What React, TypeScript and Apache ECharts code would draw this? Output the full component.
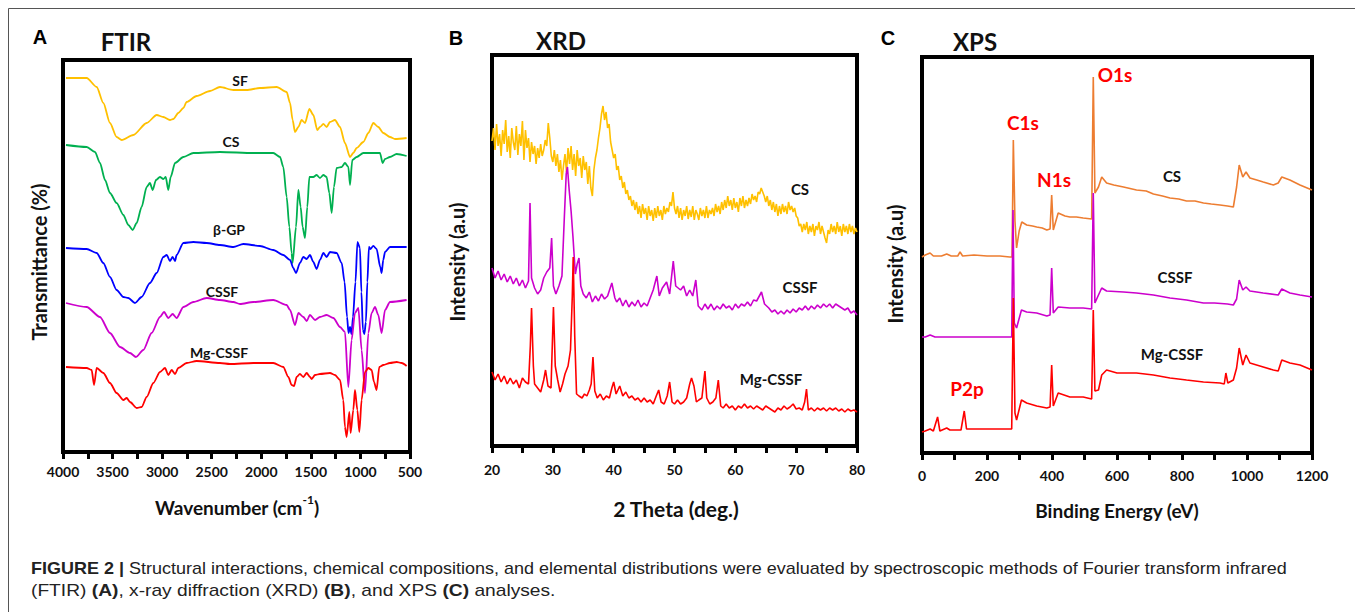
import React, { useEffect, useRef } from "react";
import * as echarts from "echarts";

// ---------- Panel A: FTIR (wavenumber cm-1, transmittance a.u. with offsets) ----------
const ftirSF: number[][] = [[3970,374],[3761,374],[3660,365],[3593,349],[3526,329],[3459,315],[3408,312],[3291,317],[3156,329],[3055,337],[2988,335],[2921,332],[2887,333],[2837,339],[2786,344],[2753,350],[2652,356],[2517,361],[2417,365],[2282,362],[2148,362],[2013,364],[1845,365],[1744,360],[1710,349],[1684,332],[1660,320],[1626,325],[1593,332],[1559,329],[1515,343],[1475,337],[1435,322],[1408,325],[1374,328],[1341,325],[1307,330],[1257,332],[1206,325],[1156,309],[1105,295],[1072,299],[1038,304],[971,310],[920,319],[870,329],[820,325],[769,319],[702,315],[651,313],[534,314]];
const ftirCS: number[][] = [[3970,307],[3761,305],[3677,300],[3627,289],[3576,272],[3526,259],[3459,249],[3391,237],[3341,227],[3297,222],[3257,229],[3207,245],[3156,265],[3123,269],[3096,262],[3062,272],[3022,275],[2988,273],[2964,275],[2938,262],[2914,275],[2870,289],[2786,295],[2685,299],[2417,300],[2080,299],[1879,299],[1811,295],[1778,285],[1744,255],[1717,225],[1694,199],[1684,189],[1650,225],[1626,262],[1603,245],[1583,225],[1559,214],[1536,245],[1515,275],[1475,275],[1442,277],[1408,274],[1374,277],[1341,275],[1314,259],[1290,239],[1267,265],[1240,284],[1189,285],[1156,289],[1122,285],[1105,267],[1082,292],[1038,295],[971,299],[870,299],[803,299],[776,289],[752,293],[702,295],[635,298],[534,296]];
const ftirBGP: number[][] = [[3970,204],[3761,203],[3660,199],[3593,189],[3526,175],[3459,162],[3391,155],[3341,154],[3274,149],[3207,155],[3123,169],[3055,179],[2988,195],[2954,197],[2921,191],[2894,195],[2870,191],[2854,197],[2786,209],[2685,210],[2551,209],[2417,207],[2282,205],[2181,208],[2013,206],[1879,202],[1778,197],[1710,192],[1677,184],[1650,179],[1610,189],[1576,195],[1542,193],[1509,197],[1475,190],[1442,183],[1408,192],[1374,199],[1341,195],[1307,200],[1240,199],[1189,189],[1160,170],[1135,135],[1120,119],[1105,125],[1090,118],[1075,135],[1050,170],[1030,210],[1005,204],[990,160],[975,122],[960,118],[945,130],[930,170],[914,205],[900,203],[870,206],[837,203],[800,185],[786,179],[770,192],[752,200],[702,205],[534,205]];
const ftirCSSF: number[][] = [[3970,149],[3761,145],[3627,135],[3526,119],[3425,105],[3324,99],[3264,95],[3190,102],[3106,119],[3022,135],[2981,140],[2938,134],[2894,138],[2854,134],[2786,145],[2685,150],[2551,154],[2417,152],[2282,150],[2215,148],[2080,150],[1879,152],[1744,147],[1710,142],[1660,127],[1626,139],[1576,135],[1542,131],[1509,137],[1458,132],[1408,135],[1341,137],[1273,134],[1206,125],[1156,120],[1122,65],[1089,112],[1055,139],[1021,144],[988,102],[954,59],[920,119],[887,139],[853,145],[820,137],[786,119],[752,142],[702,150],[534,152]];
const ftirMg: number[][] = [[3970,85],[3761,84],[3711,82],[3687,67],[3660,84],[3593,79],[3526,69],[3459,59],[3391,52],[3358,54],[3324,50],[3257,44],[3207,45],[3156,55],[3089,69],[3022,80],[2971,84],[2938,77],[2904,82],[2870,78],[2837,84],[2753,89],[2652,91],[2417,89],[2316,88],[2080,89],[1879,89],[1778,85],[1727,75],[1694,67],[1670,66],[1643,75],[1610,78],[1576,75],[1542,79],[1509,75],[1492,73],[1458,77],[1408,78],[1307,79],[1257,77],[1206,72],[1173,52],[1156,25],[1139,15],[1112,40],[1099,19],[1072,42],[1055,62],[1031,42],[1011,20],[988,52],[954,80],[920,84],[887,82],[863,70],[837,62],[810,85],[769,87],[702,89],[635,90],[584,89],[534,86]];
const ftirTicks = [4000, 3500, 3000, 2500, 2000, 1500, 1000, 500];

// ---------- Panel B: XRD (2 theta deg., intensity a.u. with offsets) ----------
const xrdCS: number[][] = [[20,305],[20.25,318],[20.5,296],[20.75,322],[21,300],[21.25,312],[21.5,290],[21.75,316],[22,302],[22.25,326],[22.5,294],[22.75,310],[23,288],[23.25,318],[23.5,304],[23.75,296],[24,320],[24.25,291],[24.5,312],[24.75,300],[25,325],[25.25,286],[25.5,316],[25.75,298],[26,308],[26.25,284],[26.5,304],[26.75,292],[27,300],[27.25,282],[27.5,298],[27.75,288],[28,302],[28.25,290],[28.5,296],[28.75,306],[29,300],[29.25,323],[29.5,308],[29.75,290],[30,284],[30.25,296],[30.5,280],[30.75,292],[31,274],[31.25,286],[31.5,266],[31.75,280],[32,292],[32.25,274],[32.5,298],[32.75,282],[33,300],[33.25,276],[33.5,292],[33.75,270],[34,296],[34.25,280],[34.5,288],[34.75,268],[35,290],[35.25,276],[35.5,284],[35.75,262],[36,280],[36.25,258],[36.5,250],[36.75,276],[37,288],[37.25,296],[37.5,308],[37.75,318],[38,332],[38.25,340],[38.5,326],[38.75,334],[39,318],[39.25,322],[39.5,304],[39.75,296],[40,288],[40.25,292],[40.5,276],[40.75,280],[41,266],[41.25,270],[41.5,258],[41.75,264],[42,252],[42.25,256],[42.5,246],[42.75,250],[43,240],[43.25,246],[43.5,236],[43.75,244],[44,232],[44.25,240],[44.5,228],[44.75,242],[45,232],[45.25,238],[45.5,226],[45.75,240],[46,230],[46.25,236],[46.5,225],[46.75,238],[47,228],[47.25,240],[47.5,230],[47.75,236],[48,226],[48.25,240],[48.5,232],[48.75,238],[49,234],[49.25,244],[49.5,240],[49.75,254],[50,238],[50.25,232],[50.5,240],[50.75,228],[51,238],[51.25,226],[51.5,236],[51.75,230],[52,240],[52.25,227],[52.5,236],[52.75,229],[53,240],[53.25,226],[53.5,236],[53.75,232],[54,226],[54.25,238],[54.5,230],[54.75,236],[55,228],[55.25,240],[55.5,228],[55.75,236],[56,232],[56.25,238],[56.5,230],[56.75,242],[57,234],[57.25,240],[57.5,232],[57.75,244],[58,236],[58.25,246],[58.5,238],[58.75,250],[59,240],[59.25,246],[59.5,236],[59.75,248],[60,238],[60.25,244],[60.5,234],[60.75,248],[61,240],[61.25,250],[61.5,238],[61.75,246],[62,240],[62.25,248],[62.5,242],[62.75,252],[63,246],[63.25,250],[63.5,244],[63.75,254],[64,252],[64.25,258],[64.5,254],[64.75,250],[65,244],[65.25,250],[65.5,240],[65.75,246],[66,236],[66.25,244],[66.5,234],[66.75,242],[67,230],[67.25,240],[67.5,232],[67.75,242],[68,234],[68.25,240],[68.5,232],[68.75,244],[69,236],[69.25,240],[69.5,234],[69.75,238],[70,230],[70.25,228],[70.5,220],[70.75,222],[71,214],[71.25,222],[71.5,216],[71.75,224],[72,212],[72.25,220],[72.5,214],[72.75,222],[73,210],[73.25,220],[73.5,216],[73.75,224],[74,212],[74.25,220],[74.5,214],[74.75,208],[75,203],[75.25,216],[75.5,212],[75.75,222],[76,214],[76.25,220],[76.5,212],[76.75,224],[77,214],[77.25,220],[77.5,210],[77.75,222],[78,214],[78.25,220],[78.5,212],[78.75,222],[79,214],[79.25,220],[79.5,212],[79.75,218],[80,214]];
const xrdCSSF: number[][] = [[20,178],[20.5,168],[21,175],[21.5,166],[22,172],[22.5,164],[23,170],[23.5,162],[24,168],[24.5,160],[25,166],[25.5,158],[26,165],[26.25,243],[26.5,168],[27,158],[27.5,152],[28,156],[28.5,168],[29,174],[29.5,178],[29.8,208],[30.1,160],[30.5,152],[31,160],[31.5,170],[31.9,230],[32.2,272],[32.4,279],[32.7,255],[33,235],[33.3,210],[33.7,172],[34,182],[34.3,188],[34.6,160],[35,152],[35.5,148],[36,154],[36.5,144],[37,150],[37.5,145],[38,152],[38.5,147],[39,150],[39.7,163],[40.2,148],[40.5,144],[41,148],[41.5,140],[42,146],[42.5,139],[43,144],[43.5,140],[44,146],[44.5,139],[45,143],[45.5,140],[46,148],[46.5,156],[47.1,170],[47.5,150],[48,158],[48.7,164],[49.2,152],[49.8,185],[50.2,160],[50.6,158],[51,156],[51.5,160],[52,150],[52.5,156],[53,150],[53.5,166],[53.9,140],[54.5,136],[55,142],[55.5,137],[56,142],[56.5,136],[57,140],[57.5,137],[58,142],[58.5,138],[59,140],[59.5,136],[60,142],[60.5,138],[61,142],[61.5,140],[62,144],[62.5,140],[63,146],[63.5,145],[64.3,154],[64.8,142],[65.5,138],[66,134],[66.5,136],[67,132],[67.5,135],[68,132],[68.5,136],[69,133],[69.5,137],[70,134],[70.5,138],[71,136],[71.5,140],[72,136],[72.5,140],[73,137],[73.5,141],[74,138],[74.5,142],[75,139],[75.5,142],[76,138],[76.5,142],[77,140],[77.5,138],[78,136],[78.5,138],[79,133],[79.5,135],[80,131]];
const xrdMg: number[][] = [[20,74],[20.5,66],[21,72],[21.5,64],[22,70],[22.5,62],[23,68],[23.5,62],[24,66],[24.5,58],[25,68],[25.5,64],[26,62],[26.3,100],[26.5,138],[26.8,80],[27,62],[27.5,58],[28,54],[28.5,66],[28.8,76],[29.2,60],[29.7,58],[30.1,139],[30.4,80],[30.8,66],[31.2,54],[31.6,62],[32,72],[32.5,80],[32.9,96],[33.2,150],[33.35,189],[33.6,110],[33.9,52],[34.3,50],[34.8,48],[35.2,52],[35.6,50],[36,56],[36.3,62],[36.6,89],[36.9,55],[37.3,48],[37.8,52],[38.3,46],[38.8,50],[39.3,48],[39.7,58],[40,64],[40.4,52],[41,60],[41.5,50],[42,54],[42.5,48],[43,50],[43.5,46],[44,48],[44.5,44],[45,48],[45.5,44],[46,46],[46.5,42],[47,50],[47.4,56],[47.8,44],[48.3,42],[48.8,50],[49.2,64],[49.6,44],[50,42],[50.5,46],[51,42],[51.5,44],[52,48],[52.5,62],[52.8,68],[53.2,60],[53.6,44],[54,46],[54.5,48],[55,75],[55.3,48],[55.8,42],[56.3,44],[56.8,48],[57.2,66],[57.6,40],[58,38],[58.5,42],[59,38],[59.5,40],[60,36],[60.5,40],[61,38],[61.5,42],[62,38],[62.5,40],[63,37],[63.5,40],[64,38],[64.5,36],[65,40],[65.5,38],[66,36],[66.5,34],[67,38],[67.5,36],[68,40],[68.5,37],[69,39],[69.5,42],[70,37],[70.5,38],[71,36],[71.4,44],[71.7,57],[72,36],[72.5,38],[73,35],[73.5,38],[74,36],[74.5,38],[75,35],[75.5,38],[76,36],[76.5,38],[77,35],[77.5,37],[78,34],[78.5,37],[79,35],[79.5,36],[80,34]];

// ---------- Panel C: XPS (binding energy eV, intensity a.u. with offsets) ----------
const xpsCS: number[][] = [[0,196],[10,198],[25,200],[35,197],[60,197],[76,199],[90,197],[110,197],[117,201],[125,197],[160,198],[200,197],[240,197],[270,196],[277,196],[281,313],[286,232],[291,205],[299,222],[307,231],[322,228],[340,227],[353,226],[370,225],[384,223],[394,224],[399,258],[404,223],[419,240],[440,237],[455,236],[475,236],[496,235],[522,234],[527,376],[532,260],[543,266],[553,276],[568,270],[590,268],[620,266],[660,263],[690,262],[712,259],[740,257],[763,255],[790,254],[814,252],[840,252],[866,250],[890,249],[917,248],[940,247],[958,246],[968,266],[976,288],[987,276],[997,281],[1009,275],[1030,273],[1050,271],[1081,268],[1096,270],[1107,276],[1132,273],[1163,268],[1200,263]];
const xpsCSSF: number[][] = [[0,116],[10,116],[25,118],[40,116],[100,116],[150,116],[200,116],[276,116],[280,243],[284,130],[291,125],[306,143],[322,141],[353,140],[384,137],[394,138],[399,185],[404,140],[419,146],[455,145],[496,145],[522,144],[527,260],[532,150],[543,158],[553,165],[568,162],[620,161],[660,160],[712,158],[763,155],[814,153],[866,150],[900,150],[940,149],[958,148],[968,154],[976,173],[987,163],[997,166],[1009,162],[1050,160],[1096,158],[1107,164],[1132,160],[1163,158],[1200,156]];
const xpsMg: number[][] = [[0,21],[10,22],[25,24],[35,22],[48,36],[55,22],[76,25],[86,23],[120,23],[130,42],[137,24],[200,24],[276,24],[281,155],[286,40],[291,33],[306,53],[322,50],[353,47],[384,45],[394,46],[399,88],[404,47],[419,60],[455,56],[496,56],[522,54],[527,143],[532,62],[543,63],[553,78],[568,83],[600,80],[660,80],[712,78],[763,75],[814,73],[866,71],[917,70],[930,69],[935,80],[941,70],[958,73],[968,85],[976,105],[987,88],[997,98],[1009,90],[1050,86],[1081,83],[1096,82],[1107,93],[1132,90],[1163,88],[1200,83]];

const FONT = "Lato";

function makeX(gridIndex: number, min: number, max: number, interval: number, inverse: boolean, margin: number) {
  return {
    type: "value", gridIndex, min, max, interval, inverse,
    axisLine: { show: true, lineStyle: { color: "#000", width: 4 } },
    axisTick: { show: true, length: 7, lineStyle: { color: "#000", width: 3 } },
    minorTick: { show: true, splitNumber: 2, length: 7, lineStyle: { color: "#000", width: 3 } },
    splitLine: { show: false },
    minorSplitLine: { show: false },
    axisLabel: { color: "#111", fontFamily: FONT, fontWeight: "bold", fontSize: 14, margin, formatter: (v: number) => String(v) },
  };
}
function makeY(gridIndex: number, max: number) {
  return { type: "value", gridIndex, min: 0, max, show: false, splitLine: { show: false } };
}
function line(idx: number, data: number[][], color: string, width: number, smooth: number | boolean) {
  return {
    type: "line", xAxisIndex: idx, yAxisIndex: idx, data, showSymbol: false, symbol: "none",
    smooth, smoothMonotone: smooth ? "x" : undefined,
    lineStyle: { color, width }, itemStyle: { color }, silent: true,
  };
}
function label(text: string, x: number, y: number, size: number, color = "#111", weight = "bold", family = FONT) {
  return {
    type: "text", x, y, silent: true,
    style: { text, fill: color, fontSize: size, fontWeight: weight, fontFamily: family, align: "center", verticalAlign: "middle" },
  };
}
function vlabel(text: string, x: number, y: number, size: number) {
  return {
    type: "text", x, y, rotation: Math.PI / 2, silent: true,
    style: { text, fill: "#111", fontSize: size, fontWeight: "bold", fontFamily: FONT, align: "center", verticalAlign: "middle" },
  };
}

export default function App() {
  const ref = useRef<HTMLDivElement>(null);
  useEffect(() => {
    document.body.style.margin = "0";
    const chart = echarts.init(ref.current!, null, { renderer: "svg" });
    const gridBase = { show: true, borderColor: "#000", borderWidth: 4, backgroundColor: "transparent", containLabel: false };
    const capFont = "Liberation Sans";
    const option: any = {
      animation: false,
      backgroundColor: "#fff",
      grid: [
        { ...gridBase, left: 63, top: 60, width: 347, height: 392 },
        { ...gridBase, left: 492, top: 55, width: 365, height: 391 },
        { ...gridBase, left: 922, top: 57, width: 390, height: 396 },
      ],
      xAxis: [
        makeX(0, ftirTicks[ftirTicks.length - 1], ftirTicks[0], 500, true, 12),
        makeX(1, 20, 80, 10, false, 16),
        makeX(2, 0, 1200, 200, false, 15),
      ],
      yAxis: [makeY(0, 392), makeY(1, 391), makeY(2, 396)],
      series: [
        line(0, ftirSF, "#FFC000", 1.8, 0.25),
        line(0, ftirCS, "#00B050", 1.8, 0.25),
        line(0, ftirBGP, "#0000FF", 1.8, 0.25),
        line(0, ftirCSSF, "#CC00CC", 1.8, 0.25),
        line(0, ftirMg, "#FF0000", 1.8, 0.25),
        line(1, xrdCS, "#FFC000", 1.6, false),
        line(1, xrdCSSF, "#CC00CC", 1.6, false),
        line(1, xrdMg, "#FF0000", 1.6, false),
        line(2, xpsCS, "#ED7D31", 1.6, false),
        line(2, xpsCSSF, "#CC00CC", 1.6, false),
        line(2, xpsMg, "#FF0000", 1.6, false),
      ],
      graphic: [
        { type: "polyline", silent: true, shape: { points: [[8.5, 700], [8.5, 8.5], [1400, 8.5]] }, style: { stroke: "#555", lineWidth: 1, fill: "none" } },
        label("A", 40, 37, 20, "#000", "bold", "Liberation Sans"),
        label("B", 456, 38, 20, "#000", "bold", "Liberation Sans"),
        label("C", 888, 38, 20, "#000", "bold", "Liberation Sans"),
        label("FTIR", 126, 41, 24),
        label("XRD", 561, 40, 24),
        label("XPS", 975, 41, 24),
        label("SF", 240, 80, 14),
        label("CS", 231, 141, 14),
        label("β-GP", 229, 229, 14),
        label("CSSF", 222, 291, 14),
        label("Mg-CSSF", 219, 352, 14),
        label("CS", 800, 189, 15),
        label("CSSF", 800, 287, 15),
        label("Mg-CSSF", 771, 379, 15),
        label("O1s", 1115, 74, 19, "#FF0000"),
        label("C1s", 1023, 122, 19, "#FF0000"),
        label("N1s", 1054, 179, 19, "#FF0000"),
        label("P2p", 967, 388, 19, "#FF0000"),
        label("CS", 1172, 176, 15),
        label("CSSF", 1175, 277, 15),
        label("Mg-CSSF", 1172, 354, 15),
        vlabel("Transmittance (%)", 39, 262, 20),
        vlabel("Intensity (a.u)", 457, 262, 20),
        vlabel("Intensity (a.u)", 895, 264, 20),
        {
          type: "text", x: 237, y: 505, silent: true,
          style: {
            text: "{n|Wavenumber (cm}{s|-1}{n|)}", align: "center", verticalAlign: "middle",
            fill: "#111", fontFamily: FONT, fontWeight: "bold", fontSize: 19,
            rich: {
              n: { fontFamily: FONT, fontWeight: "bold", fontSize: 19, fill: "#111", lineHeight: 24, verticalAlign: "bottom" },
              s: { fontFamily: FONT, fontWeight: "bold", fontSize: 12, fill: "#111", lineHeight: 24, verticalAlign: "top" },
            },
          },
        },
        label("2 Theta (deg.)", 676, 508, 21),
        label("Binding Energy (eV)", 1117, 510, 19),
        {
          type: "text", x: 31, y: 569, scaleX: 1.125, silent: true,
          style: {
            text: "{b|FIGURE 2 |} Structural interactions, chemical compositions, and elemental distributions were evaluated by spectroscopic methods of Fourier transform infrared",
            fill: "#222", fontFamily: capFont, fontSize: 16, align: "left", verticalAlign: "middle",
            rich: { b: { fontFamily: capFont, fontSize: 16, fontWeight: "bold", fill: "#222" } },
          },
        },
        {
          type: "text", x: 31, y: 591, scaleX: 1.2, silent: true,
          style: {
            text: "(FTIR) {b|(A)}, x-ray diffraction (XRD) {b|(B)}, and XPS {b|(C)} analyses.",
            fill: "#222", fontFamily: capFont, fontSize: 16, align: "left", verticalAlign: "middle",
            rich: { b: { fontFamily: capFont, fontSize: 16, fontWeight: "bold", fill: "#222" } },
          },
        },
      ],
    };
    chart.setOption(option);
    return () => chart.dispose();
  }, []);
  return <div ref={ref} style={{ position: "absolute", left: 0, top: 0, width: 1355, height: 612, background: "#fff" }} />;
}
